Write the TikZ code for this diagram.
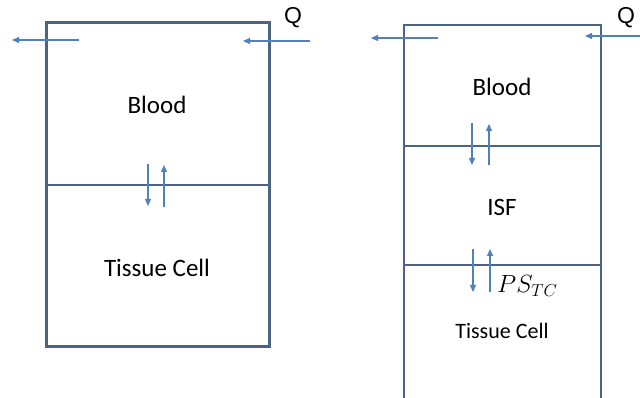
\documentclass[tikz,border=0pt]{standalone}
\usepackage{fontspec}
\setmainfont{Carlito}
\newfontfamily\qfont{Liberation Sans}
\usepackage{xcolor}
\usetikzlibrary{arrows.meta,positioning}

\definecolor{wallcol}{HTML}{4A6484}
\definecolor{flowcol}{HTML}{4F81BD}

\begin{document}
\begin{tikzpicture}[
  x=1pt, y=1pt,
  wall/.style={draw=wallcol, line width=2.8pt},
  arr/.style={draw=flowcol, line width=1.3pt, -{Triangle[length=7pt,width=6pt]}},
  lbl/.style={font=\fontsize{25}{27}\selectfont, inner sep=0pt},
  small/.style={font=\fontsize{22}{24}\selectfont, inner sep=0pt},
  qlbl/.style={font=\qfont\fontsize{23}{25}\selectfont, inner sep=0pt}
]
\useasboundingbox (0,0) rectangle (640,398);

% two compartments
\node[wall, minimum width=223pt, minimum height=324pt, inner sep=0pt,
  anchor=south west] (two) at (45,50) {};
\draw[wall] (two.west |- 0,213) coordinate (divL) -- (two.east |- 0,213);

% three compartments (open at the bottom)
\draw[wall] (404,-4) |- (601,373) coordinate (threeNE) -- (601,-4);
\coordinate (threeNW) at (404,373);
\draw[wall] (404,252) coordinate (divA) -- (601,252);
\draw[wall] (404,133) coordinate (divB) -- (601,133);

% flow in and out
\coordinate (inL1) at (310,357);
\coordinate (inL2) at (243,357);
\coordinate (outL1) at (79,358);
\coordinate (outL2) at (12,358);
\draw[arr] (inL1) -- (inL2);
\draw[arr] (outL1) -- (outL2);
\node[qlbl] (qL) at (293,380) {Q};

\coordinate (inR1) at (640,362);
\coordinate (inR2) at (585,362);
\coordinate (outR1) at (438,360);
\coordinate (outR2) at (371,360);
\draw[arr] (inR1) -- (inR2);
\draw[arr] (outR1) -- (outR2);
\node[qlbl] (qR) at (626,380) {Q};

% exchange across the walls
\coordinate (dL1) at (148,234); \coordinate (dL2) at (148,192);
\coordinate (uL1) at (164,191); \coordinate (uL2) at (164,233);
\draw[arr] (dL1) -- (dL2);
\draw[arr] (uL1) -- (uL2);

\coordinate (dA1) at (472,275); \coordinate (dA2) at (472,233);
\coordinate (uA1) at (489,233); \coordinate (uA2) at (489,274);
\draw[arr] (dA1) -- (dA2);
\draw[arr] (uA1) -- (uA2);

\coordinate (dB1) at (473,149); \coordinate (dB2) at (473,106);
\coordinate (uB1) at (490,106); \coordinate (uB2) at (490,149);
\draw[arr] (dB1) -- (dB2);
\draw[arr] (uB1) -- (uB2);

% compartment names
\node[lbl] (bloodL) at (157,293) {Blood};
\node[lbl] (tissueL) at (157,130) {Tissue Cell};
\node[lbl] (bloodR) at (502,311) {Blood};
\node[lbl] (isf) at (502,191) {ISF};
\node[small] (tissueR) at (502,67) {Tissue Cell};
\node[inner sep=0pt, anchor=west, font=\fontsize{23}{25}\selectfont] (ps) at (497,112) {$PS_{TC}$};
\end{tikzpicture}
\end{document}
